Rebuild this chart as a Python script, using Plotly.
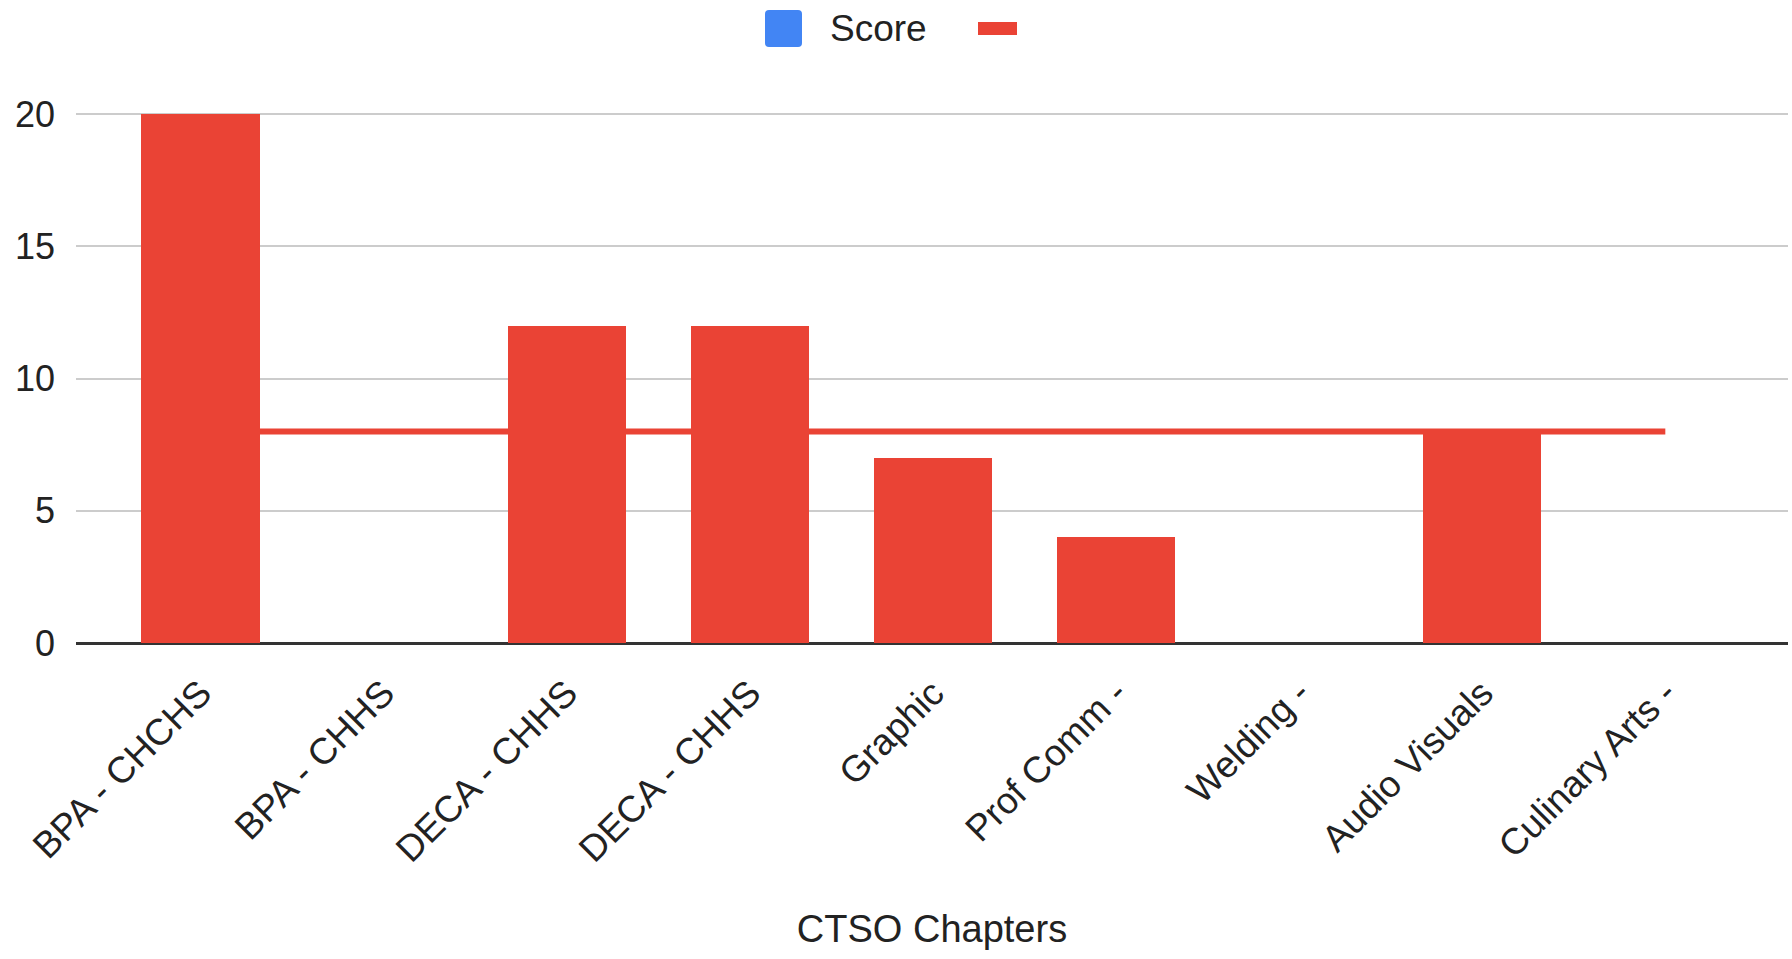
import plotly.graph_objects as go

# ---- data ----
categories = ["BPA - CHCHS", "BPA - CHHS", "DECA - CHHS", "DECA - CHHS", "Graphic",
              "Prof Comm -", "Welding -", "Audio Visuals", "Culinary Arts -"]
score = [20, 0, 12, 12, 7, 4, 0, 8, 0]
target = [8, 8, 8, 8, 8, 8, 8, 8, 8]
y_ticks = [0, 5, 10, 15, 20]
legend_label = "Score"
x_title = "CTSO Chapters"

# ---- layout constants ----
W, H = 1792, 959
L, R, T, B = 76, 4, 112, 316
PW, PH = W - L - R, H - T - B
RED = "#EA4335"
BLUE = "#4285F4"
TXT = "#222222"
FONT = "Liberation Sans, Arial, sans-serif"


def px(x):
    return (x - L) / PW


def py(y):
    return (H - B - y) / PH


xpos = list(range(len(categories)))

fig = go.Figure()

# target line (main subplot, drawn beneath bars)
fig.add_trace(go.Scatter(
    x=xpos, y=target, mode="lines", name="",
    line=dict(color=RED, width=6), xaxis="x", yaxis="y",
    showlegend=False, hoverinfo="y"))

# bars (overlay subplot, drawn on top of line)
fig.add_trace(go.Bar(
    x=xpos, y=score, name=legend_label, width=0.645,
    marker=dict(color=RED, line=dict(width=0)),
    xaxis="x", yaxis="y2", showlegend=False))

# manual legend
x0, x1, y0, y1 = px(765), px(802), py(47), py(10)
rx, ry = 4 / PW, 4 / PH
square_path = (f"M{x0+rx},{y0} L{x1-rx},{y0} Q{x1},{y0} {x1},{y0+ry} "
               f"L{x1},{y1-ry} Q{x1},{y1} {x1-rx},{y1} L{x0+rx},{y1} "
               f"Q{x0},{y1} {x0},{y1-ry} L{x0},{y0+ry} Q{x0},{y0} {x0+rx},{y0} Z")
shapes = [
    dict(type="path", xref="paper", yref="paper", path=square_path,
         fillcolor=BLUE, line=dict(width=0)),
    dict(type="rect", xref="paper", yref="paper",
         x0=px(978), x1=px(1017), y0=py(35), y1=py(22),
         fillcolor=RED, line=dict(width=0)),
]
annotations = [
    dict(text=legend_label, x=px(828), y=py(29), xref="paper", yref="paper",
         xanchor="left", yanchor="middle", showarrow=False,
         font=dict(size=37, color=TXT, family=FONT)),
]

YMAX = 20.08

fig.update_layout(
    width=W, height=H,
    margin=dict(l=L, r=R, t=T, b=B, autoexpand=False),
    paper_bgcolor="white", plot_bgcolor="white",
    showlegend=False,
    bargap=0,
    font=dict(family=FONT, color=TXT),
    shapes=shapes,
    annotations=annotations,
    xaxis=dict(
        range=[-0.68, 8.67], tickmode="array", tickvals=xpos, ticktext=categories,
        tickangle=-45, showgrid=False, zeroline=False, showline=False,
        ticks="", tickfont=dict(size=37, color=TXT, family=FONT),
        ticklabelstandoff=20,
        title=dict(text=x_title, font=dict(size=38, color=TXT, family=FONT), standoff=46),
        automargin=False,
    ),
    yaxis=dict(
        range=[0, YMAX], tickmode="array", tickvals=y_ticks,
        showgrid=True, gridcolor="#cccccc", gridwidth=2,
        zeroline=True, zerolinecolor="#333333", zerolinewidth=3,
        showline=False, ticks="",
        tickfont=dict(size=36, color=TXT, family=FONT),
        ticklabelstandoff=20, automargin=False,
    ),
    yaxis2=dict(
        range=[0, YMAX], overlaying="y", visible=False, showgrid=False, zeroline=False,
    ),
)

fig.write_html("out.html")
